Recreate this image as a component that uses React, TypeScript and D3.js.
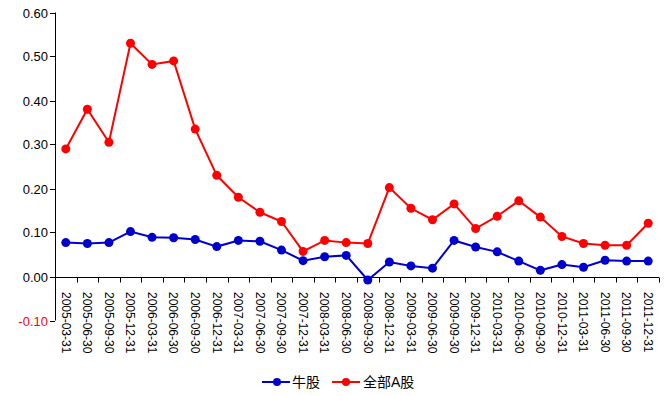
import React from "react";
import * as d3 from "d3";

const categories = [
  "2005-03-31","2005-06-30","2005-09-30","2005-12-31",
  "2006-03-31","2006-06-30","2006-09-30","2006-12-31",
  "2007-03-31","2007-06-30","2007-09-30","2007-12-31",
  "2008-03-31","2008-06-30","2008-09-30","2008-12-31",
  "2009-03-31","2009-06-30","2009-09-30","2009-12-31",
  "2010-03-31","2010-06-30","2010-09-30","2010-12-31",
  "2011-03-31","2011-06-30","2011-09-30","2011-12-31",
];

const bullValues = [
  0.077, 0.075, 0.077, 0.102, 0.089, 0.088, 0.084, 0.068,
  0.082, 0.080, 0.060, 0.036, 0.045, 0.048, -0.008, 0.033,
  0.024, 0.019, 0.082, 0.067, 0.056, 0.035, 0.014, 0.027,
  0.021, 0.037, 0.035, 0.035,
];

const allAValues = [
  0.290, 0.380, 0.305, 0.530, 0.482, 0.490, 0.335, 0.230,
  0.180, 0.146, 0.125, 0.057, 0.082, 0.077, 0.075, 0.202,
  0.155, 0.129, 0.165, 0.109, 0.137, 0.172, 0.135, 0.091,
  0.075, 0.071, 0.071, 0.121,
];

const yTicks = [-0.1, 0, 0.1, 0.2, 0.3, 0.4, 0.5, 0.6];

const seriesNames = ["牛股", "全部A股"];
const seriesColors = ["#0000cc", "#ff0000"];

const W = 672;
const H = 396;
const left = 55;
const right = 659;
const top = 12.5;
const bottom = 320.5;
const font = "Arial, 'Liberation Sans', 'Noto Sans CJK SC', sans-serif";

export default function App() {
  const x = d3.scaleBand<string>().domain(categories).range([left, right]);
  const y = d3.scaleLinear().domain([-0.1, 0.6]).range([bottom, top]);
  const cx = (c: string) => (x(c) as number) + x.bandwidth() / 2;
  const line = d3
    .line<number>()
    .x((_, i) => cx(categories[i]))
    .y((v) => y(v));
  const series = [bullValues, allAValues];
  const y0 = Math.round(y(0)) + 0.5;
  const boundaries = categories.map((c) => x(c) as number).concat([right]);

  return (
    <svg
      width={W}
      height={H}
      style={{ position: "absolute", left: 0, top: 0, background: "#fff" }}
      fontFamily={font}
    >
      {/* y axis */}
      <line x1={left + 0.5} x2={left + 0.5} y1={top} y2={bottom} stroke="#000" />
      {yTicks.map((t) => {
        const yy = Math.round(y(t)) + 0.5;
        return (
          <g key={t}>
            <line x1={left - 5} x2={left} y1={yy} y2={yy} stroke="#000" />
            <text
              x={left - 7}
              y={yy}
              dy="0.35em"
              textAnchor="end"
              fontSize={13}
              fill={t < 0 ? "#ff0000" : "#000"}
            >
              {t.toFixed(2)}
            </text>
          </g>
        );
      })}
      {/* x axis at zero */}
      <line x1={left} x2={right} y1={y0} y2={y0} stroke="#000" />
      {boundaries.map((b, i) => (
        <line
          key={i}
          x1={Math.round(b) + 0.5}
          x2={Math.round(b) + 0.5}
          y1={y0}
          y2={y0 + 5}
          stroke="#000"
        />
      ))}
      {categories.map((c) => (
        <text
          key={c}
          transform={`translate(${cx(c)},${292}) rotate(90)`}
          dy="0.35em"
          fontSize={12}
          fill="#000"
        >
          {c}
        </text>
      ))}
      {/* series */}
      {series.map((vals, si) => (
        <g key={si}>
          <path d={line(vals) || ""} fill="none" stroke={seriesColors[si]} strokeWidth={2} />
          {vals.map((v, i) => (
            <circle key={i} cx={cx(categories[i])} cy={y(v)} r={4.5} fill={seriesColors[si]} />
          ))}
        </g>
      ))}
      {/* legend */}
      {[
        { x0: 262, x1: 290, cxm: 277, tx: 292 },
        { x0: 332, x1: 360, cxm: 346, tx: 363 },
      ].map((l, i) => (
        <g key={i}>
          <line x1={l.x0} x2={l.x1} y1={382} y2={382} stroke={seriesColors[i]} strokeWidth={2} />
          <circle cx={l.cxm} cy={382} r={4} fill={seriesColors[i]} />
          <text x={l.tx} y={382} dy="0.38em" fontSize={14} fill="#000">
            {seriesNames[i]}
          </text>
        </g>
      ))}
    </svg>
  );
}
